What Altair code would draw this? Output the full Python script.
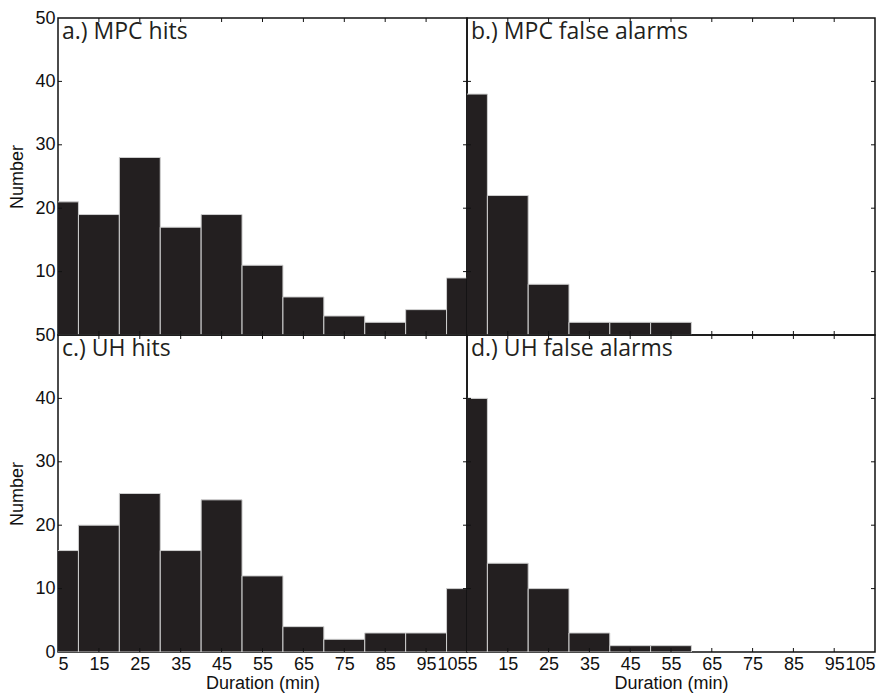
import altair as alt
import pandas as pd

# ---- data ----
bin_centers = [5, 15, 25, 35, 45, 55, 65, 75, 85, 95, 105]
mpc_hits = [21, 19, 28, 17, 19, 11, 6, 3, 2, 4, 9]
mpc_false_alarms = [38, 22, 8, 2, 2, 2, 0, 0, 0, 0, 0]
uh_hits = [16, 20, 25, 16, 24, 12, 4, 2, 3, 3, 10]
uh_false_alarms = [40, 14, 10, 3, 1, 1, 0, 0, 0, 0, 0]
panel_titles = ["a.) MPC hits", "b.) MPC false alarms", "c.) UH hits", "d.) UH false alarms"]
x_tick_labels = [5, 15, 25, 35, 45, 55, 65, 75, 85, 95, 105]
y_tick_labels = [0, 10, 20, 30, 40, 50]
bin_width = 10

W_LEFT, W_RIGHT, H = 409, 408, 317
BAR_FILL = "#231f20"
BAR_EDGE = "#cfcfcf"
LABEL_FONT = "Liberation Sans"
FS = 18


def panel(counts, title, width, show_x, show_y, top_row):
    df = pd.DataFrame({"center": bin_centers, "count": counts})
    df["lo"] = df["center"] - bin_width / 2
    df["hi"] = df["center"] + bin_width / 2
    df = df[df["count"] > 0]

    xscale = alt.Scale(domain=[5, 105], nice=False, zero=False)
    yscale = alt.Scale(domain=[0, 50], nice=False)

    if show_x:
        xaxis = alt.Axis(values=x_tick_labels, title="Duration (min)", ticks=False, domain=False,
                         grid=False, labelFlush=True, labelPadding=3, labelFontSize=FS,
                         labelFont=LABEL_FONT, labelColor="#111", titleFont=LABEL_FONT,
                         titleFontSize=FS, titleFontWeight="normal", titleColor="#111",
                         titlePadding=1)
    else:
        xaxis = None
    if show_y:
        yvals = y_tick_labels if not top_row else [v for v in y_tick_labels if v > 0]
        yaxis = alt.Axis(values=yvals, title="Number", ticks=False, domain=False, grid=False,
                         labelPadding=3, labelFontSize=FS, labelFont=LABEL_FONT, labelColor="#111",
                         titleFont=LABEL_FONT, titleFontSize=FS, titleFontWeight="normal",
                         titleColor="#111", titlePadding=8)
    else:
        yaxis = None

    bars = alt.Chart(df).mark_rect(fill=BAR_FILL, stroke=BAR_EDGE, strokeWidth=1, clip=True).encode(
        x=alt.X("lo:Q", scale=xscale, axis=xaxis),
        x2="hi:Q",
        y=alt.Y("count:Q", scale=yscale, axis=yaxis),
        y2=alt.datum(0),
    )

    xt = pd.DataFrame({"t": x_tick_labels[1:-1]})
    yt = pd.DataFrame({"t": y_tick_labels[1:-1]})
    tick_style = dict(color="#111", strokeWidth=1)
    xt_bottom = alt.Chart(xt).mark_rule(**tick_style).encode(
        x=alt.X("t:Q"), y=alt.value(H), y2=alt.value(H - 4))
    xt_top = alt.Chart(xt).mark_rule(**tick_style).encode(
        x=alt.X("t:Q"), y=alt.value(0), y2=alt.value(4))
    yt_left = alt.Chart(yt).mark_rule(**tick_style).encode(
        y=alt.Y("t:Q"), x=alt.value(0), x2=alt.value(4))
    yt_right = alt.Chart(yt).mark_rule(**tick_style).encode(
        y=alt.Y("t:Q"), x=alt.value(width), x2=alt.value(width - 4))

    label = alt.Chart(pd.DataFrame({"label": [title]})).mark_text(
        align="left", baseline="top", font="Open Sans", fontSize=23, color="#231f20"
    ).encode(text="label:N", x=alt.value(4), y=alt.value(3))

    return alt.layer(bars, xt_bottom, xt_top, yt_left, yt_right, label).properties(
        width=width, height=H)


a = panel(mpc_hits, panel_titles[0], W_LEFT, False, True, True)
b = panel(mpc_false_alarms, panel_titles[1], W_RIGHT, False, False, True)
c = panel(uh_hits, panel_titles[2], W_LEFT, True, True, False)
d = panel(uh_false_alarms, panel_titles[3], W_RIGHT, True, False, False)

chart = alt.concat(a, b, c, d, columns=2, spacing=0, bounds="flush").configure(
    background="white", padding=0
).configure_view(stroke="#111", strokeWidth=1.5)

chart.save("out.html", embed_options={"renderer": "svg", "actions": False})
